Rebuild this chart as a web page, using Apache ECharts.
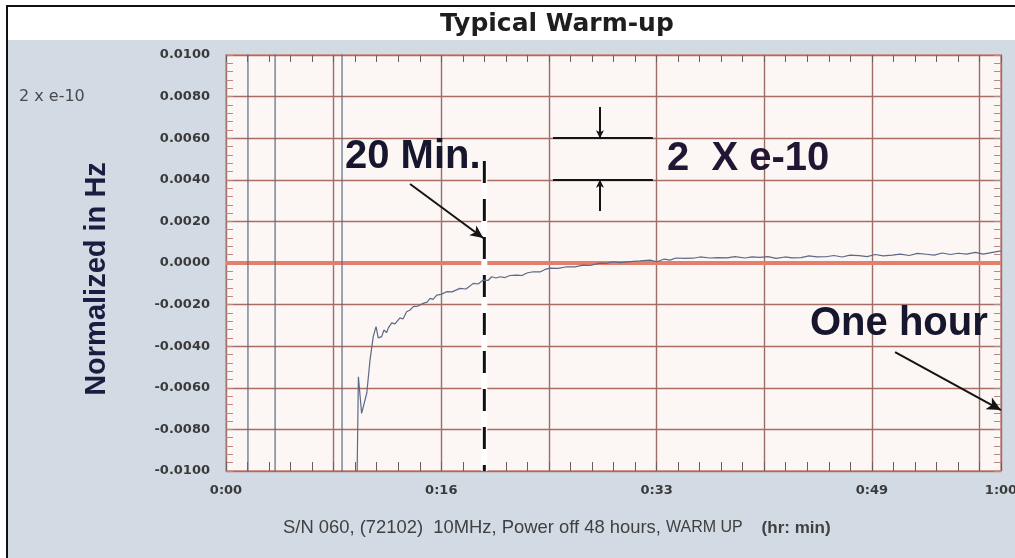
<!DOCTYPE html>
<html>
<head>
<meta charset="utf-8">
<title>Typical Warm-up</title>
<script src="https://cdn.jsdelivr.net/npm/echarts@6/dist/echarts.min.js"></script>
<style>
  html, body { margin: 0; padding: 0; background: #ffffff; }
  #chart { width: 1015px; height: 558px; }
</style>
</head>
<body>
<div id="chart"></div>
<script>
// Elapsed time in seconds since power-on, and normalized frequency offset in Hz
const timeSec = [
  0, 102, 102, 228, 228, 539, 539, 603,
  615, 630, 638, 654, 669, 684, 697, 707, 723, 734, 746, 754, 770, 785,
  808, 822, 839, 855, 870, 892, 916, 934, 948, 962, 979, 999, 1025, 1050,
  1087, 1115, 1149, 1171, 1195, 1217, 1234, 1254, 1273, 1296, 1319, 1350,
  1375, 1398, 1427, 1459, 1482, 1505, 1542, 1583, 1621, 1660, 1691, 1737,
  1765, 1798, 1830, 1877, 1923, 1970, 2002, 2035, 2062, 2090, 2132, 2169,
  2202, 2248, 2285, 2327, 2364, 2411, 2443, 2480, 2518, 2555, 2597, 2629,
  2671, 2708, 2745, 2787, 2824, 2862, 2899, 2941, 2978, 3016, 3053, 3095,
  3132, 3174, 3211, 3253, 3290, 3327, 3365, 3402, 3440, 3481, 3518, 3555, 3600
];
const freqHz = [
  0.015, 0.015, -0.015, -0.015, 0.015, 0.015, -0.015, -0.015,
  -0.00547, -0.00723, -0.00723, -0.00625, -0.00466, -0.00354, -0.00306, -0.0036, -0.00354, -0.00322, -0.00335, -0.00312, -0.00288, -0.00293,
  -0.00264, -0.00269, -0.00234, -0.00226, -0.0021, -0.00207, -0.00194, -0.00188, -0.0017, -0.00175, -0.00154, -0.00151, -0.00138, -0.00139,
  -0.00122, -0.00125, -0.00098, -0.00101, -0.00082, -0.00084, -0.00066, -0.00072, -0.00066, -0.0007, -0.0006, -0.00058,
  -0.0006, -0.00048, -0.00042, -0.00043, -0.00031, -0.00025, -0.00026, -0.00018, -0.00019, -0.0001, -0.00012, -0.00001,
  -0.00002, 0.00006, 0.00002, 0.00007, 0.0001, 0.00014, 0.00006, 0.00019, 0.00014, 0.00024, 0.00022, 0.00023,
  0.00029, 0.00024, 0.00026, 0.00025, 0.00031, 0.00024, 0.00029, 0.00027, 0.00031, 0.00022, 0.00029, 0.00025,
  0.00026, 0.00034, 0.00029, 0.0003, 0.00036, 0.00029, 0.00038, 0.00035, 0.00031, 0.00041, 0.00034, 0.00038,
  0.00043, 0.00036, 0.00046, 0.00042, 0.00038, 0.00048, 0.00041, 0.00047, 0.00043, 0.00051, 0.00043, 0.0005, 0.00058
];

// Axis ticks
const xTickValues = [0, 1000, 2000, 3000, 3600];
const xTickLabels = ['0:00', '0:16', '0:33', '0:49', '1:00'];
const yTickLabels = ['-0.0100', '-0.0080', '-0.0060', '-0.0040', '-0.0020', '0.0000',
                     '0.0020', '0.0040', '0.0060', '0.0080', '0.0100'];

// Reference markers: 20-minute line and the zero baseline
const twentyMinSec = 1200;
const twentyMinLine = [[twentyMinSec, 0.0049], [twentyMinSec, -0.01]];
const zeroLine = [[0, 0], [3600, 0]];

// Annotation arrows and the 2 x e-10 scale bracket, in data units
const arrow20Min = [[855, 0.0038], [1195, 0.0012]];
const arrowOneHour = [[3108, -0.00428], [3600, -0.00707]];
const bracketTop = [[1519, 0.006], [1983, 0.006]];
const bracketBottom = [[1519, 0.004], [1983, 0.004]];
const bracketArrowDown = [[1737, 0.0075], [1737, 0.006]];
const bracketArrowUp = [[1737, 0.0025], [1737, 0.004]];

const trace = timeSec.map((t, i) => [t, freqHz[i]]);

const chart = echarts.init(document.getElementById('chart'), null, { renderer: 'canvas' });

function seg(pair, startSym, endSym, size) {
  return [
    { coord: pair[0], symbol: startSym, symbolSize: size },
    { coord: pair[1], symbol: endSym, symbolSize: size }
  ];
}

const W = 1015, H = 558;
const gridLeft = 226, gridTop = 55, gridRight = 14, gridBottom = 87;
const plotW = W - gridLeft - gridRight, plotH = H - gridTop - gridBottom;

const tickColor = '#6e5c5a';
const noLine = { show: false, onZero: false };

chart.setOption({
  backgroundColor: '#ffffff',
  animation: false,
  title: {
    text: 'Typical Warm-up',
    left: 435,
    top: 7,
    textStyle: { fontFamily: 'DejaVu Sans', fontWeight: 'bold', fontSize: 25, color: '#1e1e1e' }
  },
  grid: [
    {
      left: gridLeft, top: gridTop, right: gridRight, bottom: gridBottom,
      outerBoundsMode: 'none', containLabel: false,
      show: true, backgroundColor: 'transparent', borderColor: '#dca39b', borderWidth: 2
    },
    {
      left: gridLeft, top: gridTop, right: gridRight, bottom: gridBottom,
      outerBoundsMode: 'none', containLabel: false, show: false
    }
  ],
  xAxis: [
    {
      gridIndex: 0, type: 'value', min: 0, max: 3600, interval: 500, position: 'bottom',
      axisLine: noLine, axisTick: { show: false },
      splitLine: { show: true, lineStyle: { color: '#9c7068', width: 1.4 } },
      axisLabel: {
        showMinLabel: true, showMaxLabel: true, margin: 13, hideOverlap: false,
        fontFamily: 'DejaVu Sans', fontWeight: 'bold', fontSize: 13, color: '#3a3a3a',
        formatter: v => { const i = xTickValues.indexOf(v); return i >= 0 ? xTickLabels[i] : ''; }
      }
    },
    {
      gridIndex: 1, type: 'value', min: 0, max: 3600, interval: 100, position: 'bottom', offset: 0,
      axisLine: noLine, splitLine: { show: false }, axisLabel: { show: false },
      axisTick: { show: true, inside: true, length: 9, lineStyle: { color: tickColor, width: 1 } }
    },
    {
      gridIndex: 1, type: 'value', min: 0, max: 3600, interval: 100, position: 'top', offset: 0,
      axisLine: noLine, splitLine: { show: false }, axisLabel: { show: false },
      axisTick: { show: true, inside: true, length: 7, lineStyle: { color: tickColor, width: 1 } }
    }
  ],
  yAxis: [
    {
      gridIndex: 0, type: 'value', min: -0.01, max: 0.01, interval: 0.002, position: 'left',
      axisLine: noLine,
      axisTick: { show: true, inside: true, length: 7, lineStyle: { color: '#c0857e', width: 1 } },
      minorTick: { show: true, splitNumber: 5, length: 7, lineStyle: { color: '#c0857e', width: 1 } },
      splitLine: { show: true, lineStyle: { color: '#a86c64', width: 1.4 } },
      axisLabel: {
        margin: 16, fontFamily: 'DejaVu Sans', fontWeight: 'bold', fontSize: 13, color: '#3a3a3a',
        formatter: (v, i) => yTickLabels[i]
      }
    },
    {
      gridIndex: 1, type: 'value', min: -0.01, max: 0.01, interval: 0.002, position: 'right', offset: 0,
      axisLine: noLine, splitLine: { show: false }, axisLabel: { show: false },
      axisTick: { show: true, inside: true, length: 7, lineStyle: { color: '#b08a86', width: 1 } },
      minorTick: { show: true, splitNumber: 5, length: 7, lineStyle: { color: '#b08a86', width: 1 } }
    }
  ],
  series: [
    {
      name: 'zero', type: 'line', z: 2, data: zeroLine, symbol: 'none', silent: true,
      lineStyle: { color: '#e27f6d', width: 4 }
    },
    {
      name: '20 min backing', type: 'line', z: 3, data: twentyMinLine, symbol: 'none', silent: true,
      lineStyle: { color: '#ffffff', width: 6 }
    },
    {
      name: '20 min', type: 'line', z: 4, data: twentyMinLine, symbol: 'none', silent: true,
      lineStyle: { color: '#111111', width: 3, type: [22, 16] }
    },
    {
      name: 'S/N 060', type: 'line', z: 5, data: trace, symbol: 'none', clip: true,
      lineStyle: { color: '#5b6a86', width: 1.2 }
    },
    {
      name: 'annotations', type: 'line', z: 6, data: [], symbol: 'none', silent: true,
      markLine: {
        silent: true, animation: false,
        label: { show: false },
        lineStyle: { color: '#141414', width: 2, type: 'solid' },
        data: [
          seg(arrow20Min, 'none', 'arrow', [9, 13]),
          seg(arrowOneHour, 'none', 'arrow', [10, 14]),
          seg(bracketTop, 'none', 'none', 1),
          seg(bracketBottom, 'none', 'none', 1),
          seg(bracketArrowDown, 'none', 'arrow', [6, 8]),
          seg(bracketArrowUp, 'none', 'arrow', [6, 8])
        ]
      }
    },
    {
      name: 'tick frame', type: 'line', xAxisIndex: 1, yAxisIndex: 1, data: [], symbol: 'none', silent: true
    }
  ],
  graphic: [
    { type: 'rect', z: -10, silent: true, shape: { x: 7, y: 40, width: W - 7, height: H - 40 }, style: { fill: '#d2dbe4' } },
    { type: 'rect', z: -9, silent: true, shape: { x: gridLeft, y: gridTop, width: plotW, height: plotH }, style: { fill: '#fcf6f4' } },
    { type: 'line', z: -8, silent: true, shape: { x1: 7, y1: 5, x2: 7, y2: H }, style: { stroke: '#111', lineWidth: 2 } },
    { type: 'line', z: -8, silent: true, shape: { x1: 6, y1: 6, x2: W, y2: 6 }, style: { stroke: '#111', lineWidth: 2 } },
    {
      type: 'text', z: 100, silent: true, x: 19, y: 97,
      style: { text: '2 x e-10', font: '16px "DejaVu Sans"', fill: '#4a4a4a', verticalAlign: 'middle' }
    },
    {
      type: 'text', z: 100, silent: true, x: 97, y: 279, rotation: Math.PI / 2,
      style: { text: 'Normalized in Hz', font: 'bold 29px "Liberation Sans"', fill: '#1c1c40', align: 'center', verticalAlign: 'middle' }
    },
    {
      type: 'text', z: 100, silent: true, x: 345, y: 157,
      style: { text: '20 Min.', font: 'bold 40px "Liberation Sans"', fill: '#16162e', verticalAlign: 'middle' }
    },
    {
      type: 'text', z: 100, silent: true, x: 667, y: 159,
      style: { text: '2  X e-10', font: 'bold 40px "Liberation Sans"', fill: '#221634', verticalAlign: 'middle' }
    },
    {
      type: 'text', z: 100, silent: true, x: 810, y: 324,
      style: { text: 'One hour', font: 'bold 40px "Liberation Sans"', fill: '#16162e', verticalAlign: 'middle' }
    },
    {
      type: 'text', z: 100, silent: true, x: 283, y: 528,
      style: {
        text: '{a|S/N 060, (72102)  10MHz, Power off 48 hours, }{b|WARM UP}{c|    (hr: min)}',
        verticalAlign: 'middle',
        rich: {
          a: { fontFamily: 'Liberation Sans', fontSize: 18.4, fill: '#404040', color: '#404040' },
          b: { fontFamily: 'Liberation Sans', fontSize: 16, fill: '#404040', color: '#404040' },
          c: { fontFamily: 'Liberation Sans', fontWeight: 'bold', fontSize: 17, fill: '#404040', color: '#404040' }
        }
      }
    }
  ]
});
</script>
</body>
</html>
